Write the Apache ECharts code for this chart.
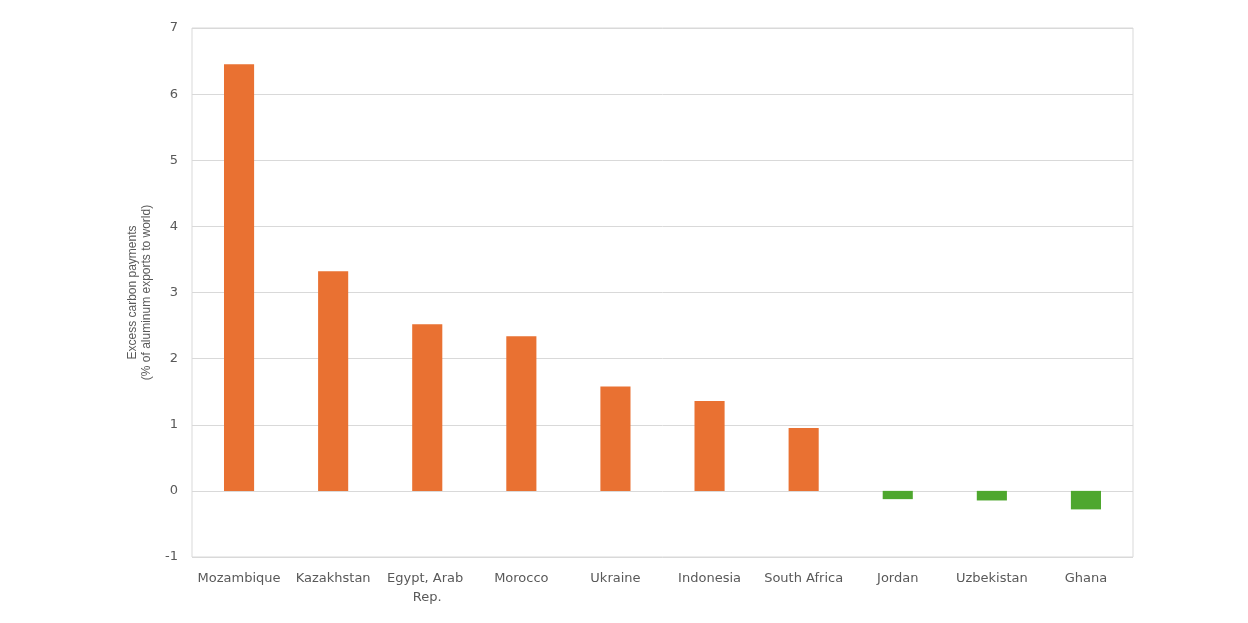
<!DOCTYPE html>
<html>
<head>
<meta charset="utf-8">
<script src="https://cdn.jsdelivr.net/npm/echarts@6/dist/echarts.min.js"></script>
<style>html,body{margin:0;padding:0;background:#fff}#c{width:1248px;height:623px}</style>
</head>
<body>
<div id="c"></div>
<script>
const categories = ['Mozambique','Kazakhstan','Egypt, Arab Rep.','Morocco','Ukraine','Indonesia','South Africa','Jordan','Uzbekistan','Ghana'];
const values = [6.45, 3.32, 2.52, 2.34, 1.58, 1.36, 0.95, -0.125, -0.145, -0.28];
const yTicks = { min: -1, max: 7, interval: 1 };
const yTitle = 'Excess carbon payments\n(% of aluminum exports to world)';

const chart = echarts.init(document.getElementById('c'));
chart.setOption({
  animation: false,
  grid: { left: 192, right: 115, top: 28, bottom: 66, show: true, borderColor: '#d9d9d9', borderWidth: 1 },
  xAxis: {
    type: 'category', data: categories,
    axisLine: { show: false }, axisTick: { show: false },
    axisLabel: { interval: 0, color: '#595959', fontFamily: 'DejaVu Sans', fontSize: 13, margin: 12, width: 92, overflow: 'break', lineHeight: 19 }
  },
  yAxis: {
    type: 'value', min: yTicks.min, max: yTicks.max, interval: yTicks.interval,
    name: yTitle, nameLocation: 'middle', nameGap: 37, nameRotate: 90,
    nameTextStyle: { color: '#595959', fontFamily: 'Liberation Sans', fontSize: 12, lineHeight: 14 },
    axisLine: { show: false }, axisTick: { show: false },
    axisLabel: { color: '#595959', fontFamily: 'DejaVu Sans', fontSize: 13, margin: 14 },
    splitLine: { lineStyle: { color: '#d9d9d9', width: 1 } }
  },
  series: [{
    type: 'bar', data: values.map(v => ({ value: v, itemStyle: { color: v >= 0 ? '#E97132' : '#4EA72E' } })),
    barWidth: '32%'
  }]
});
</script>
</body>
</html>
